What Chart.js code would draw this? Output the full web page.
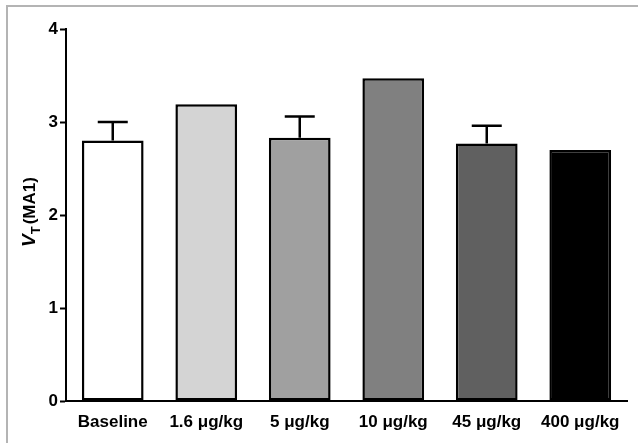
<!DOCTYPE html>
<html>
<head>
<meta charset="utf-8">
<script src="https://cdn.jsdelivr.net/npm/chart.js@4.4.0/dist/chart.umd.min.js"></script>
<style>
  html, body { margin: 0; padding: 0; background: #fff; }
  #wrap { position: relative; width: 638px; height: 443px; }
  #frame { position: absolute; left: 6px; top: 5px; right: 0; bottom: 0; border-top: 2px solid #b4b4b4; border-left: 2px solid #b4b4b4; }
  canvas { position: absolute; left: 0; top: 0; }
</style>
</head>
<body>
<div id="wrap">
  <div id="frame"></div>
  <canvas id="myChart" width="638" height="443"></canvas>
</div>
<script>
const categories = ['Baseline', '1.6 μg/kg', '5 μg/kg', '10 μg/kg', '45 μg/kg', '400 μg/kg']
const means = [2.80, 3.19, 2.83, 3.47, 2.77, 2.70]
const errors = [0.20, null, 0.23, null, 0.19, null]
const colors = ['#ffffff', '#d4d4d4', '#a0a0a0', '#808080', '#606060', '#000000']
const yTicks = [0, 1, 2, 3, 4]

const FONT = 'Arial, "Liberation Sans", sans-serif'

const errorBars = {
    id: 'errorBars',
    afterDatasetsDraw(chart) {
        const ctx = chart.ctx
        const y = chart.scales.y
        const meta = chart.getDatasetMeta(0)
        ctx.save()
        ctx.strokeStyle = '#000'
        ctx.lineWidth = 2.5
        meta.data.forEach((bar, i) => {
            if (errors[i] == null) return
            const top = y.getPixelForValue(means[i] + errors[i])
            const base = y.getPixelForValue(means[i])
            ctx.beginPath()
            ctx.moveTo(bar.x, base)
            ctx.lineTo(bar.x, top)
            ctx.moveTo(bar.x - 15, top)
            ctx.lineTo(bar.x + 15, top)
            ctx.stroke()
        })
        ctx.restore()
    }
}

const yTitle = {
    id: 'yTitle',
    afterDraw(chart) {
        const ctx = chart.ctx
        const area = chart.chartArea
        ctx.save()
        ctx.translate(35, (area.top + area.bottom) / 2 - 2)
        ctx.rotate(-Math.PI / 2)
        ctx.fillStyle = '#000'
        ctx.textBaseline = 'alphabetic'
        const parts = [
            { t: 'V', f: 'italic bold 19px ' + FONT, dy: 0 },
            { t: 'T', f: 'bold 13px ' + FONT, dy: 5 },
            { t: '(MA1)', f: 'bold 17px ' + FONT, dy: 0 }
        ]
        let total = 0
        parts.forEach(p => { ctx.font = p.f; p.w = ctx.measureText(p.t).width; total += p.w })
        let x = -total / 2
        parts.forEach((p, i) => {
            ctx.font = p.f
            ctx.fillText(p.t, x, p.dy)
            x += p.w + (i === 1 ? 2 : 0)
        })
        ctx.restore()
    }
}

const ctx = document.getElementById('myChart').getContext('2d')
new Chart(ctx, {
    type: 'bar',
    data: {
        labels: categories,
        datasets: [{
            data: means,
            backgroundColor: colors,
            borderColor: '#000',
            borderWidth: 2.5,
            borderSkipped: false,
            barPercentage: 0.66,
            categoryPercentage: 1
        }]
    },
    options: {
        responsive: false,
        animation: false,
        layout: { padding: { top: 29, right: 11, left: 0, bottom: 0 } },
        plugins: {
            legend: { display: false },
            tooltip: { enabled: false }
        },
        scales: {
            x: {
                grid: { display: false },
                border: { display: true, color: '#000', width: 2 },
                ticks: { color: '#000', font: { family: FONT, size: 17, weight: 'bold' }, padding: 3, maxRotation: 0 },
                afterFit(scale) { scale.height = 42 }
            },
            y: {
                min: 0,
                max: 4,
                afterBuildTicks(scale) { scale.ticks = yTicks.map(v => ({ value: v })) },
                grid: { drawOnChartArea: false, drawTicks: true, tickLength: 6, tickWidth: 2, color: '#000' },
                border: { display: true, color: '#000', width: 2 },
                ticks: { color: '#000', font: { family: FONT, size: 17, weight: 'bold' }, padding: 2 },
                afterFit(scale) { scale.width = 66 }
            }
        }
    },
    plugins: [errorBars, yTitle]
})
</script>
</body>
</html>
